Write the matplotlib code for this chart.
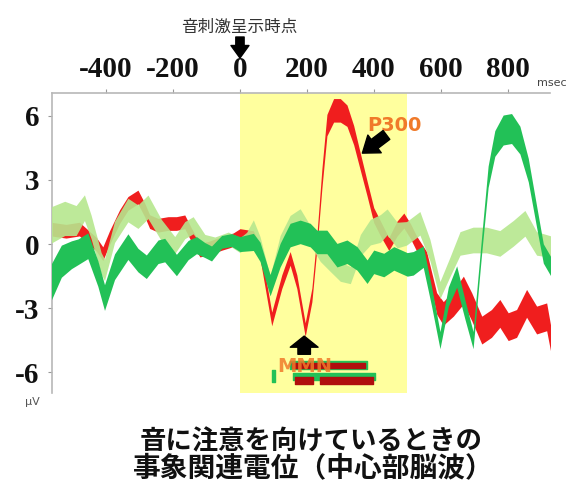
import matplotlib
matplotlib.use("Agg")
import matplotlib.pyplot as plt

plt.rcParams["axes.unicode_minus"] = False

# grand-average ERP bands: time (ms), mean (uV), half-width of the band (uV)
RED_T = [-565, -520, -480, -455, -430, -410, -390, -360, -335, -305, -285, -270,
         -245, -215, -190, -165, -145, -120, -95, -55, -20, 0, 40, 60, 95, 125,
         150, 170, 195, 215, 230, 245, 260, 280, 300, 320, 340, 360, 380, 400,
         420, 445, 470, 490, 510, 528, 558, 588, 608, 638, 668, 693, 723, 752,
         777, 802, 827, 857, 887, 917, 930]
RED_V = [0.7, 0.6, 0.7, 0.35, 0.0, -0.45, 0.3, 1.28, 1.9, 2.2, 1.6, 1.05,
         0.88, 0.96, 0.96, 1.04, 0.42, -0.28, -0.2, 0.03, 0.2, 0.4, 0.3, -0.36,
         -3.5, -1.76, -0.67, -1.76, -4.0, -2.38, 0.1, 3.07, 5.56, 6.25, 6.25,
         6.0, 5.09, 3.84, 2.6, 1.35, 0.73, 0.0, 0.73, 1.1, 0.6, 0.03, -0.75,
         -2.77, -3.24, -2.77, -2.15, -2.93, -4.02, -3.71, -3.24, -3.86, -3.71,
         -2.77, -3.55, -3.4, -4.5]
RED_W = [0.32] * 31 + [0.45, 0.5, 0.55, 0.55, 0.5, 0.45, 0.4, 0.35, 0.35,
                       0.35, 0.3, 0.35, 0.35, 0.35, 0.35, 0.4, 0.5, 0.55, 0.6,
                       0.65, 0.65, 0.65, 0.65, 0.65, 0.65, 0.65, 0.65, 0.65,
                       0.65, 0.6]

LIGHT_T = [-565, -524, -490, -465, -445, -415, -405, -375, -335, -305, -275,
           -235, -195, -165, -140, -105, -75, -35, 0, 20, 40, 60, 90, 120,
           150, 180, 210, 240, 270, 300, 330, 360, 390, 420, 440, 470, 498,
           538, 568, 598, 628, 658, 697, 737, 777, 817, 852, 887, 930]
LIGHT_V = [0.89, 1.2, 1.1, 1.7, 0.8, -0.9, -1.2, 0.57, 1.59, 1.28, 1.74,
           0.65, -0.05, 0.65, 0.88, 0.1, 0.03, 0.26, -0.05, 0.2, 0.73, -0.05,
           -1.9, -0.05, 0.89, 1.2, 0.42, -0.36, -0.83, -1.29, -1.45, -0.05,
           0.56, 0.73, 1.04, 0.42, 0.5, 0.97, -0.28, -2.15, -1.06, 0.03, 0.19,
           0.19, 0.03, 0.5, 0.97, 0.03, -0.12]
LIGHT_W = [0.85, 0.8, 0.7, 0.6, 0.55, 0.5, 0.5, 0.5, 0.55, 0.55, 0.55,
           0.5, 0.4, 0.4, 0.4, 0.35, 0.3, 0.3, 0.35, 0.35, 0.4, 0.4,
           0.4, 0.45, 0.45, 0.45, 0.45, 0.45, 0.45, 0.45, 0.4, 0.5,
           0.6, 0.65, 0.6, 0.6, 0.55, 0.55, 0.5, 0.4, 0.45, 0.55, 0.6,
           0.6, 0.6, 0.6, 0.6, 0.55, 0.5]

GREEN_T = [-565, -534, -504, -484, -455, -425, -405, -375, -335, -305, -280,
           -245, -225, -190, -155, -130, -105, -85, -55, -25, 0, 40, 60, 90,
           120, 150, 180, 210, 230, 260, 290, 320, 350, 380, 400, 430, 460,
           500, 518, 548, 573, 598, 623, 648, 673, 697, 723, 742, 762, 787,
           812, 837, 862, 887, 907, 930]
GREEN_V = [-1.8, -0.8, -0.5, -0.36, -0.08, -1.37, -2.5, -1.06, -0.12, -0.75,
           -1.06, -0.36, -0.28, -0.98, -0.28, -0.05, -0.28, -0.44, 0.1, 0.19,
           0.0, 0.1, -0.36, -1.92, -0.52, 0.42, 0.57, 0.42, 0.1, 0.1, -0.52,
           -0.36, -0.67, -1.29, -0.83, -0.98, -0.67, -0.95, -0.9, -0.59, -2.46,
           -4.49, -2.46, -1.52, -3.08, -4.49, 0.03, 3.15, 4.7, 5.33, 5.4, 4.86,
           3.46, 1.28, -0.44, -1.06]
GREEN_W = [0.85, 0.75, 0.65, 0.6, 0.6, 0.6, 0.6, 0.6, 0.6, 0.55, 0.55,
           0.55, 0.55, 0.5, 0.45, 0.4, 0.35, 0.35, 0.3, 0.3, 0.35, 0.4, 0.45,
           0.5, 0.55, 0.55, 0.55, 0.55, 0.55, 0.55, 0.55, 0.55, 0.55, 0.55, 0.55,
           0.55, 0.55, 0.55, 0.55, 0.5, 0.45, 0.4, 0.45, 0.5, 0.45, 0.4, 0.4,
           0.5, 0.6, 0.7, 0.7, 0.65, 0.55, 0.5, 0.45, 0.45]

# significant intervals (ms)
SIG_GREEN_TOP = [(150, 380)]
SIG_RED_TOP = [(156, 374)]
SIG_GREEN_BOTTOM = [(159, 404)]
SIG_RED_BOTTOM = [(164, 218), (239, 398)]
SIG_GREEN_TICK = [(96, 104)]

X_TICKS = [-400, -200, 0, 200, 400, 600, 800]
Y_TICKS = [6, 3, 0, -3, -6]

RED = "#f01e1e"
LIGHT = "#b6e78e"
GREEN = "#22c157"
DARK_RED = "#b00e0e"
ORANGE = "#f07a2a"
W, H = 580, 488

fig = plt.figure(figsize=(5.8, 4.88), dpi=100, facecolor="white")
ax = fig.add_axes([52 / W, 1 - 393 / H, 498 / W, 300 / H])
ax.set_xlim(-562, 927)
ax.set_ylim(-6.96, 7.06)

ax.axvspan(0, 500, color="#ffff9e", lw=0, zorder=0)


def band(t, v, w, color, alpha=1.0, z=2):
    lo = [a - b for a, b in zip(v, w)]
    hi = [a + b for a, b in zip(v, w)]
    ax.fill_between(t, lo, hi, color=color, lw=0, alpha=alpha, zorder=z)


band(RED_T, RED_V, RED_W, RED, z=2)
band(LIGHT_T, LIGHT_V, LIGHT_W, LIGHT, alpha=0.9, z=3)
band(GREEN_T, GREEN_V, GREEN_W, GREEN, z=4)

# significance bars below the traces
for a, b in SIG_GREEN_TOP:
    ax.broken_barh([(a, b - a)], (-5.83, 0.36), color=GREEN, zorder=5)
for a, b in SIG_RED_TOP:
    ax.broken_barh([(a, b - a)], (-5.78, 0.22), color=DARK_RED, zorder=6)
for a, b in SIG_GREEN_BOTTOM:
    ax.broken_barh([(a, b - a)], (-6.36, 0.34), color=GREEN, zorder=5)
for a, b in SIG_RED_BOTTOM:
    ax.broken_barh([(a, b - a)], (-6.55, 0.32), color=DARK_RED, zorder=6)
for a, b in SIG_GREEN_TICK:
    ax.broken_barh([(a, b - a)], (-6.45, 0.56), color=GREEN, zorder=5)

ax.text(194, -5.72, "MMN", color=ORANGE, fontsize=14, fontweight="bold",
        ha="center", va="center", alpha=0.85, zorder=7)
ax.annotate("", xy=(192, -4.3), xytext=(192, -5.15), zorder=8,
            arrowprops=dict(arrowstyle="simple,head_width=1.0,head_length=0.4,tail_width=0.45",
                            color="black", mutation_scale=20, shrinkA=0, shrinkB=0))
ax.text(463, 5.56, "P300", color=ORANGE, fontsize=14, fontweight="bold",
        ha="center", va="center", zorder=7)
ax.annotate("", xy=(366, 4.25), xytext=(438, 5.1), zorder=8,
            arrowprops=dict(arrowstyle="simple,head_width=0.8,head_length=0.55,tail_width=0.4",
                            color="black", mutation_scale=20, shrinkA=0, shrinkB=0))

# axes styling
for side in ("right", "bottom"):
    ax.spines[side].set_visible(False)
for side in ("top", "left"):
    ax.spines[side].set_color("#b8b8b8")
    ax.spines[side].set_linewidth(1.2)
ax.set_facecolor("white")
ax.set_xticks(X_TICKS)
ax.set_xticklabels([str(v) for v in X_TICKS])
ax.set_yticks(Y_TICKS)
ax.set_yticklabels([str(v) for v in Y_TICKS])
ax.tick_params(axis="x", top=True, labeltop=True, bottom=False, labelbottom=False,
               length=3, color="#999999", pad=4)
ax.tick_params(axis="y", length=3, color="#999999", pad=6)
for lab in ax.get_xticklabels() + ax.get_yticklabels():
    lab.set_family("Liberation Serif")
    lab.set_fontweight("bold")
    lab.set_fontsize(21)
    lab.set_color("#111111")

fig.text(537 / W, 1 - 83 / H, "msec", fontsize=8, color="#444444", ha="left", va="center")
fig.text(32 / W, 1 - 402 / H, "μV", fontsize=8, color="#555555", ha="center", va="center")

# stimulus onset marker
fig.text(239 / W, 1 - 27 / H, "音刺激呈示時点", fontsize=12, color="#333333",
         ha="center", va="center", family=["Noto Sans CJK JP", "DejaVu Sans"])
ax.annotate("", xy=(0, 1 - 58 / H), xytext=(0, 1 - 37 / H),
            xycoords=("data", "figure fraction"), textcoords=("data", "figure fraction"),
            annotation_clip=False,
            arrowprops=dict(arrowstyle="simple,head_width=0.65,head_length=0.45,tail_width=0.3",
                            color="black", mutation_scale=20, shrinkA=0, shrinkB=0))

cjk = ["Noto Sans CJK JP", "DejaVu Sans"]
fig.text(311 / W, 1 - 442 / H, "音に注意を向けているときの", fontsize=19,
         fontweight="bold", ha="center", va="center", family=cjk, color="#111111")
fig.text(313 / W, 1 - 468 / H, "事象関連電位（中心部脳波）", fontsize=20,
         fontweight="bold", ha="center", va="center", family=cjk, color="#111111")

fig.savefig("out.png", dpi=100, facecolor="white")
